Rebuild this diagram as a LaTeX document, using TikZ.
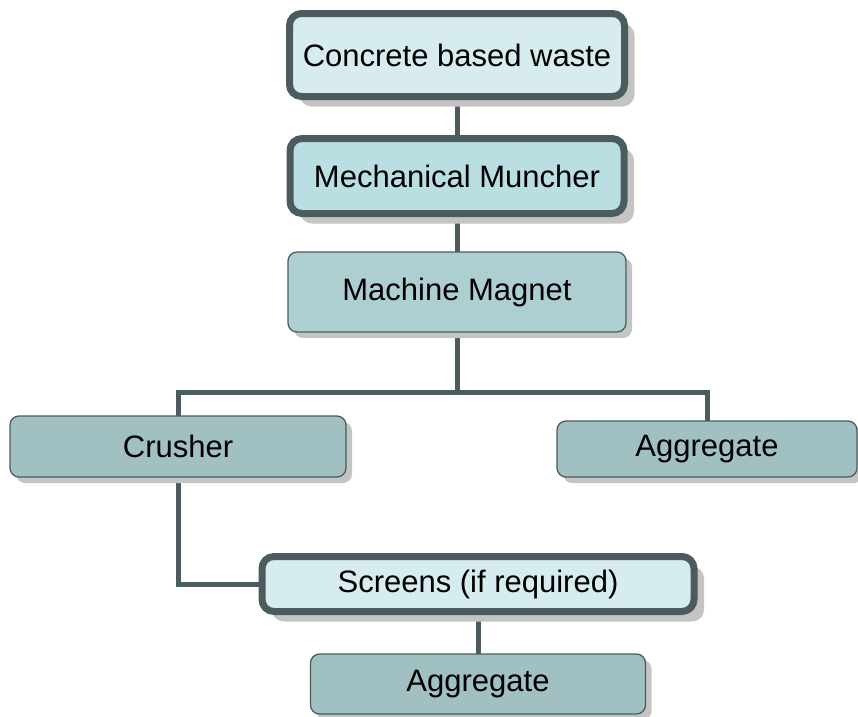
\documentclass[tikz,border=0pt]{standalone}
\usepackage{fontspec}
\setmainfont{Liberation Sans}
\usetikzlibrary{shadows,backgrounds}
\definecolor{edgec}{HTML}{4C5C5E}
\definecolor{lightf}{HTML}{D7ECEF}
\definecolor{midf}{HTML}{B9DFE2}
\definecolor{magf}{HTML}{AECFD1}
\definecolor{darkf}{HTML}{A1C0C2}
\definecolor{shadc}{HTML}{C4C4C4}
\tikzset{
  thickbox/.style={draw=edgec, line width=7pt, rounded corners=12pt, inner sep=0pt,
    font=\fontsize{31}{37}\selectfont,
    drop shadow={shadow xshift=10pt, shadow yshift=-10pt, fill=shadc, opacity=1}},
  thinbox/.style={draw=edgec, line width=1.3pt, rounded corners=9pt, inner sep=0pt,
    font=\fontsize{31}{37}\selectfont,
    drop shadow={shadow xshift=6pt, shadow yshift=-6pt, fill=shadc, opacity=1}},
  conn/.style={draw=edgec, line width=5pt}
}
\begin{document}
\begin{tikzpicture}[x=1pt,y=-1pt]
\useasboundingbox (0,0) rectangle (858,716);
\node[thickbox, fill=lightf, minimum width=335pt, minimum height=83pt] (cbw) at (457,55) {Concrete based waste};
\node[thickbox, fill=midf, minimum width=334pt, minimum height=75pt] (mm) at (457,176) {Mechanical Muncher};
\node[thinbox, fill=magf, minimum width=338pt, minimum height=80pt] (mag) at (457,292) {Machine Magnet};
\node[thinbox, fill=darkf, minimum width=336pt, minimum height=61pt] (cr) at (178,446.5) {Crusher};
\node[thinbox, fill=darkf, minimum width=300pt, minimum height=56pt] (ag1) at (707,449) {Aggregate};
\node[thickbox, fill=lightf, minimum width=432pt, minimum height=55pt] (scr) at (478,584) {Screens (if required)};
\node[thinbox, fill=darkf, minimum width=335pt, minimum height=60pt] (ag2) at (478,684) {Aggregate};
\begin{scope}[on background layer]
\draw[conn] (cbw.center) -- (mm.center);
\draw[conn] (mm.center) -- (mag.center);
\draw[conn] (mag.center) -- (457,392.5) coordinate (br);
\draw[conn] (cr.center) |- (br) -| (ag1.center);
\draw[conn] (cr.center) |- (scr.center);
\draw[conn] (scr.center) -- (ag2.center);
\end{scope}
\end{tikzpicture}
\end{document}
